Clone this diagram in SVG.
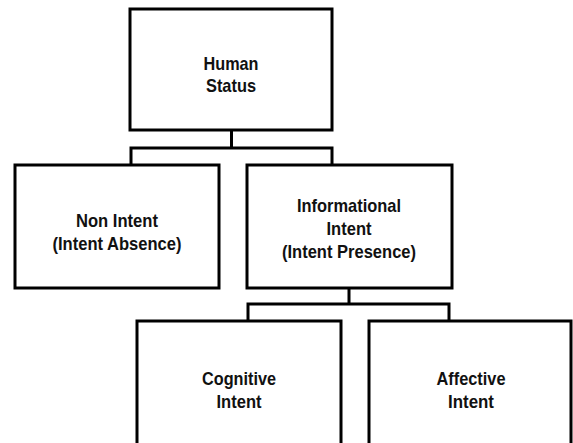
<svg xmlns="http://www.w3.org/2000/svg" width="573" height="443" viewBox="0 0 573 443">
<style>
.box{fill:#fff;stroke:#000;stroke-width:3}
.con{fill:none;stroke:#000;stroke-width:3;stroke-linejoin:miter}
.t{font-family:"Liberation Sans",Arial,sans-serif;font-weight:bold;font-size:19px;fill:#111;text-anchor:middle}
</style>
<rect width="573" height="443" fill="#fff"/>
<g id="connectors">
<path class="con" d="M231.5,130 V148 M131,166 V148 H332 V166"/>
<path class="con" d="M349,288 V304 M248,322 V304 H449 V322"/>
</g>
<g id="human-status">
<rect class="box" x="130" y="9" width="202" height="121"/>
<text class="t" x="231" y="70" textLength="55" lengthAdjust="spacingAndGlyphs">Human</text>
<text class="t" x="231" y="92" textLength="50" lengthAdjust="spacingAndGlyphs">Status</text>
</g>
<g id="non-intent">
<rect class="box" x="15" y="165" width="204" height="123"/>
<text class="t" x="117" y="227" textLength="82" lengthAdjust="spacingAndGlyphs">Non Intent</text>
<text class="t" x="117" y="250" textLength="129" lengthAdjust="spacingAndGlyphs">(Intent Absence)</text>
</g>
<g id="informational-intent">
<rect class="box" x="247" y="165" width="205" height="123"/>
<text class="t" x="349" y="212" textLength="104" lengthAdjust="spacingAndGlyphs">Informational</text>
<text class="t" x="349" y="235" textLength="45" lengthAdjust="spacingAndGlyphs">Intent</text>
<text class="t" x="349" y="258" textLength="134" lengthAdjust="spacingAndGlyphs">(Intent Presence)</text>
</g>
<g id="cognitive-intent">
<rect class="box" x="137" y="321" width="204" height="130"/>
<text class="t" x="239" y="385" textLength="74" lengthAdjust="spacingAndGlyphs">Cognitive</text>
<text class="t" x="239" y="408" textLength="45" lengthAdjust="spacingAndGlyphs">Intent</text>
</g>
<g id="affective-intent">
<rect class="box" x="369" y="321" width="202" height="130"/>
<text class="t" x="471" y="385" textLength="69" lengthAdjust="spacingAndGlyphs">Affective</text>
<text class="t" x="471" y="408" textLength="46" lengthAdjust="spacingAndGlyphs">Intent</text>
</g>
</svg>
